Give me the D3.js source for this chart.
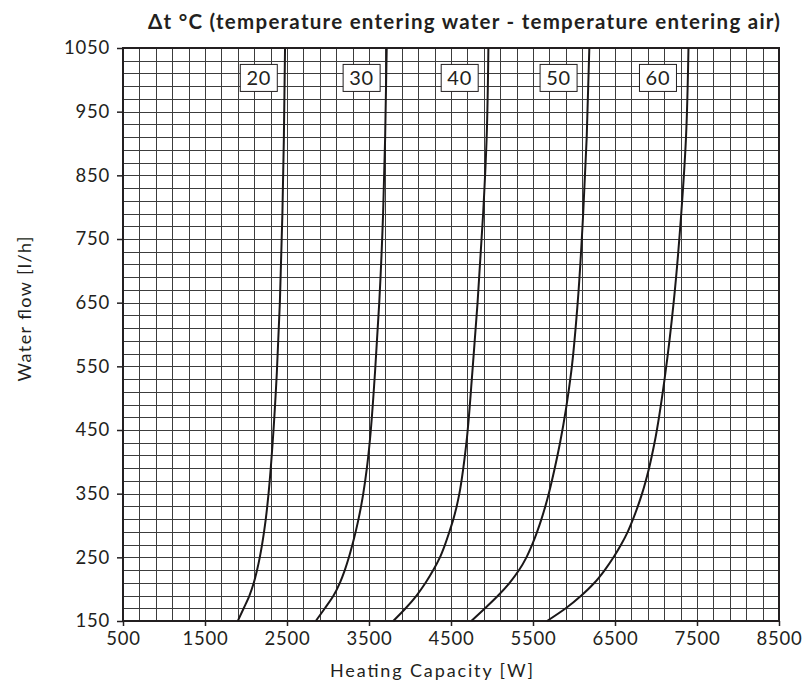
<!DOCTYPE html>
<html>
<head>
<meta charset="utf-8">
<script src="https://cdn.jsdelivr.net/npm/d3@7/dist/d3.min.js"></script>
<style>
  body { margin: 0; background: #fff; }
  text { font-family: Lato, "Open Sans", "DejaVu Sans", sans-serif; fill: #231f20; }
</style>
</head>
<body>
<div id="chart"></div>
<script>
// water flow [l/h] at which each curve was read
var flow = [150, 170, 190, 210, 230, 250, 270, 290, 310, 330, 350, 390, 430, 540, 650, 790, 910, 1050];

// heating capacity [W] per delta t
var dt20 = [1900, 1972, 2042, 2095, 2135, 2168, 2196, 2220, 2241, 2259, 2275, 2302, 2325, 2376, 2413, 2444, 2462, 2476];
var dt30 = [2851, 2962, 3068, 3145, 3205, 3255, 3298, 3337, 3372, 3403, 3430, 3474, 3508, 3573, 3625, 3672, 3697, 3716];
var dt40 = [3796, 3947, 4080, 4190, 4284, 4365, 4427, 4480, 4529, 4569, 4602, 4650, 4688, 4760, 4824, 4892, 4935, 4956];
var dt50 = [4748, 4915, 5075, 5215, 5330, 5420, 5490, 5550, 5603, 5650, 5692, 5765, 5830, 5965, 6045, 6112, 6155, 6187];
var dt60 = [5671, 5900, 6090, 6250, 6375, 6482, 6575, 6655, 6720, 6778, 6830, 6915, 6982, 7115, 7215, 7308, 7366, 7396];

var seriesNames = ["20", "30", "40", "50", "60"];
var labelCap = [2156, 3410, 4606, 5812, 7024];
var labelFlow = 1003;

var xTicks = [500, 1500, 2500, 3500, 4500, 5500, 6500, 7500, 8500];
var yTicks = [150, 250, 350, 450, 550, 650, 750, 850, 950, 1050];

var margin = {top: 48, right: 27, bottom: 68, left: 123},
    W = 806, H = 689,
    width = W - margin.left - margin.right,
    height = H - margin.top - margin.bottom;

var x = d3.scaleLinear().domain([500, 8500]).range([0, width]);
var y = d3.scaleLinear().domain([150, 1050]).range([height, 0]);

var svg = d3.select("#chart").append("svg")
    .attr("width", W)
    .attr("height", H);

var g = svg.append("g")
    .attr("transform", "translate(" + margin.left + "," + margin.top + ")");

// grid: every 200 W and every 20 l/h
var gridColor = "#3c3c3c";
g.append("g").selectAll("line")
    .data(d3.range(700, 8500, 200))
  .enter().append("line")
    .attr("x1", (d) => Math.round(x(d)) + 0.5)
    .attr("x2", (d) => Math.round(x(d)) + 0.5)
    .attr("y1", 0)
    .attr("y2", height)
    .attr("stroke", gridColor)
    .attr("stroke-width", 1);
g.append("g").selectAll("line")
    .data(d3.range(170, 1050, 20))
  .enter().append("line")
    .attr("y1", (d) => Math.round(y(d)) + 0.5)
    .attr("y2", (d) => Math.round(y(d)) + 0.5)
    .attr("x1", 0)
    .attr("x2", width)
    .attr("stroke", gridColor)
    .attr("stroke-width", 1);

// frame
g.append("rect")
    .attr("x", 0).attr("y", 0)
    .attr("width", width).attr("height", height)
    .attr("fill", "none")
    .attr("stroke", "#231f20")
    .attr("stroke-width", 2);

var xAxis = d3.axisBottom(x).tickValues(xTicks).tickSize(5).tickPadding(6).tickFormat(d3.format("d"));
var yAxis = d3.axisLeft(y).tickValues(yTicks).tickSize(6).tickPadding(7).tickFormat(d3.format("d"));

g.append("g")
    .attr("transform", "translate(0," + height + ")")
    .call(xAxis)
    .call((a) => a.select(".domain").remove())
    .call((a) => a.selectAll("line").attr("stroke", "#231f20").attr("stroke-width", 1.5))
    .call((a) => a.selectAll("text").attr("font-size", 18.5).attr("letter-spacing", 0.8).attr("fill", "#231f20"));

g.append("g")
    .call(yAxis)
    .call((a) => a.select(".domain").remove())
    .call((a) => a.selectAll("line").attr("stroke", "#231f20").attr("stroke-width", 1.5))
    .call((a) => a.selectAll("text").attr("font-size", 18.5).attr("letter-spacing", 0.8).attr("fill", "#231f20"));

// curves
var series = [dt20, dt30, dt40, dt50, dt60];
var line = d3.line()
    .x((d) => x(d[0]))
    .y((d) => y(d[1]))
    .curve(d3.curveMonotoneY);

g.selectAll(".curve")
    .data(series)
  .enter().append("path")
    .attr("class", "curve")
    .attr("d", (s) => line(s.map((v, i) => [v, flow[i]])))
    .attr("fill", "none")
    .attr("stroke", "#1a1718")
    .attr("stroke-width", 2);

// curve labels
var lab = g.selectAll(".lab")
    .data(seriesNames)
  .enter().append("g")
    .attr("class", "lab")
    .attr("transform", (d, i) => "translate(" + x(labelCap[i]) + "," + y(labelFlow) + ")");
lab.append("rect")
    .attr("x", -18.5).attr("y", -13.5)
    .attr("width", 37).attr("height", 27)
    .attr("fill", "#fff")
    .attr("stroke", "#231f20")
    .attr("stroke-width", 1);
lab.append("text")
    .attr("text-anchor", "middle")
    .attr("dy", "0.36em")
    .attr("font-size", 20)
    .attr("letter-spacing", 0.8)
    .text((d) => d);

// titles
svg.append("text")
    .attr("x", 464)
    .attr("y", 29)
    .attr("text-anchor", "middle")
    .attr("font-size", 20.5)
    .attr("font-weight", "bold")
    .attr("textLength", 632)
    .attr("lengthAdjust", "spacing")
    .text("\u0394t \u00B0C (temperature entering water - temperature entering air)");

svg.append("text")
    .attr("x", 431.5)
    .attr("y", 677)
    .attr("text-anchor", "middle")
    .attr("font-size", 18)
    .attr("textLength", 203)
    .attr("lengthAdjust", "spacing")
    .text("Heating Capacity [W]");

svg.append("text")
    .attr("transform", "translate(31,309) rotate(-90)")
    .attr("text-anchor", "middle")
    .attr("font-size", 18)
    .attr("textLength", 145)
    .attr("lengthAdjust", "spacing")
    .text("Water flow [l/h]");
</script>
</body>
</html>
